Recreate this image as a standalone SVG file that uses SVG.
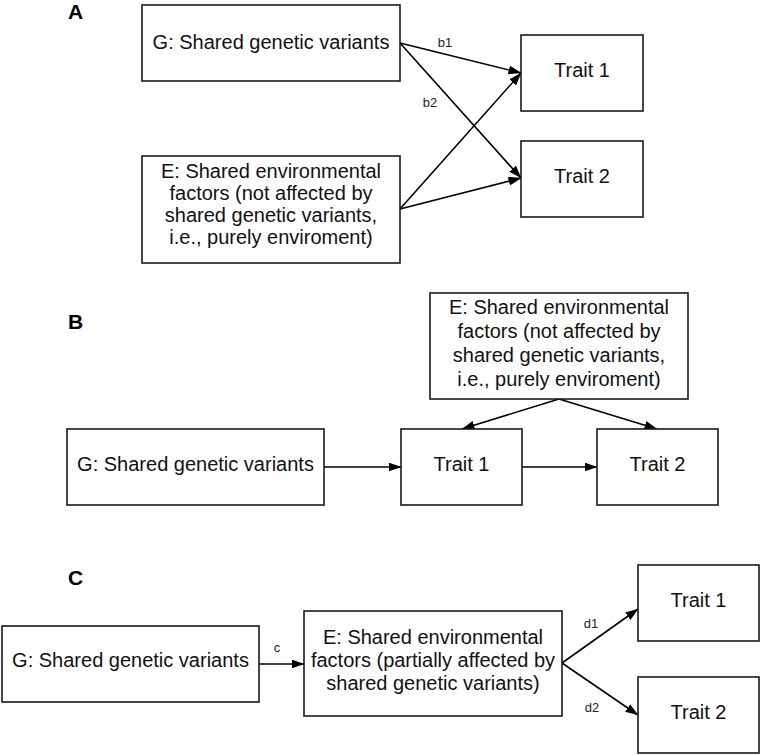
<svg xmlns="http://www.w3.org/2000/svg" width="761" height="755" viewBox="0 0 761 755">
<defs>
<marker id="arr" markerWidth="13" markerHeight="9" refX="12.5" refY="4.5" orient="auto" markerUnits="userSpaceOnUse">
<path d="M0,0 L13,4.5 L0,9 z" fill="#000"/>
</marker>
<style>
.box{fill:#fff;stroke:#1a1a1a;stroke-width:1.6}
.t{font-family:"Liberation Sans",Arial,sans-serif;font-size:20px;fill:#111;text-anchor:middle}
.lab{font-family:"Liberation Sans",Arial,sans-serif;font-size:21px;font-weight:bold;fill:#000}
.el{font-family:"Liberation Sans",Arial,sans-serif;font-size:13px;fill:#222;text-anchor:middle}
.c{stroke:#000;stroke-width:1.6;fill:none;marker-end:url(#arr)}
</style>
</defs>
<rect width="761" height="755" fill="#fff"/>
<text class="lab" x="68" y="19">A</text>
<text class="lab" x="68" y="329">B</text>
<text class="lab" x="68" y="585">C</text>
<g id="connectors">
<line class="c" x1="400" y1="43" x2="521" y2="73"/>
<line class="c" x1="400" y1="43" x2="521" y2="178"/>
<line class="c" x1="400" y1="209" x2="521" y2="73"/>
<line class="c" x1="400" y1="209" x2="521" y2="178"/>
<line class="c" x1="324" y1="467" x2="401" y2="467"/>
<line class="c" x1="522" y1="467" x2="597" y2="467"/>
<line class="c" x1="559" y1="399" x2="462" y2="429"/>
<line class="c" x1="559" y1="399" x2="657" y2="429"/>
<line class="c" x1="259" y1="664" x2="304" y2="664"/>
<line class="c" x1="562" y1="663" x2="638" y2="609"/>
<line class="c" x1="562" y1="663" x2="638" y2="715"/>
<text class="el" x="445" y="47">b1</text>
<text class="el" x="430" y="107">b2</text>
<text class="el" x="277" y="652">c</text>
<text class="el" x="591" y="628">d1</text>
<text class="el" x="592" y="712">d2</text>
</g>
<g id="a-g">
<rect class="box" x="142" y="5" width="258" height="76"/>
<text class="t" x="271" y="49">G: Shared genetic variants</text>
</g>
<g id="a-e">
<rect class="box" x="142" y="156" width="258" height="107"/>
<text class="t" x="271" y="178">E: Shared environmental</text>
<text class="t" x="271" y="200">factors (not affected by</text>
<text class="t" x="271" y="222">shared genetic variants,</text>
<text class="t" x="271" y="244">i.e., purely enviroment)</text>
</g>
<g id="a-trait1">
<rect class="box" x="521" y="35" width="122" height="76"/>
<text class="t" x="582" y="77">Trait 1</text>
</g>
<g id="a-trait2">
<rect class="box" x="521" y="141" width="122" height="76"/>
<text class="t" x="582" y="183">Trait 2</text>
</g>
<g id="b-e">
<rect class="box" x="430" y="293" width="258" height="106"/>
<text class="t" x="559" y="314">E: Shared environmental</text>
<text class="t" x="559" y="338">factors (not affected by</text>
<text class="t" x="559" y="362">shared genetic variants,</text>
<text class="t" x="559" y="386">i.e., purely enviroment)</text>
</g>
<g id="b-g">
<rect class="box" x="67" y="429" width="257" height="76"/>
<text class="t" x="195.5" y="471">G: Shared genetic variants</text>
</g>
<g id="b-trait1">
<rect class="box" x="401" y="429" width="121" height="76"/>
<text class="t" x="461.5" y="471">Trait 1</text>
</g>
<g id="b-trait2">
<rect class="box" x="597" y="429" width="121" height="76"/>
<text class="t" x="657.5" y="471">Trait 2</text>
</g>
<g id="c-g">
<rect class="box" x="2" y="626" width="257" height="76"/>
<text class="t" x="130.5" y="667">G: Shared genetic variants</text>
</g>
<g id="c-e">
<rect class="box" x="304" y="611" width="258" height="105"/>
<text class="t" x="433" y="644">E: Shared environmental</text>
<text class="t" x="433" y="667">factors (partially affected by</text>
<text class="t" x="433" y="690">shared genetic variants)</text>
</g>
<g id="c-trait1">
<rect class="box" x="638" y="565" width="121" height="76"/>
<text class="t" x="698.5" y="607">Trait 1</text>
</g>
<g id="c-trait2">
<rect class="box" x="638" y="677" width="121" height="76"/>
<text class="t" x="698.5" y="719">Trait 2</text>
</g>
</svg>
